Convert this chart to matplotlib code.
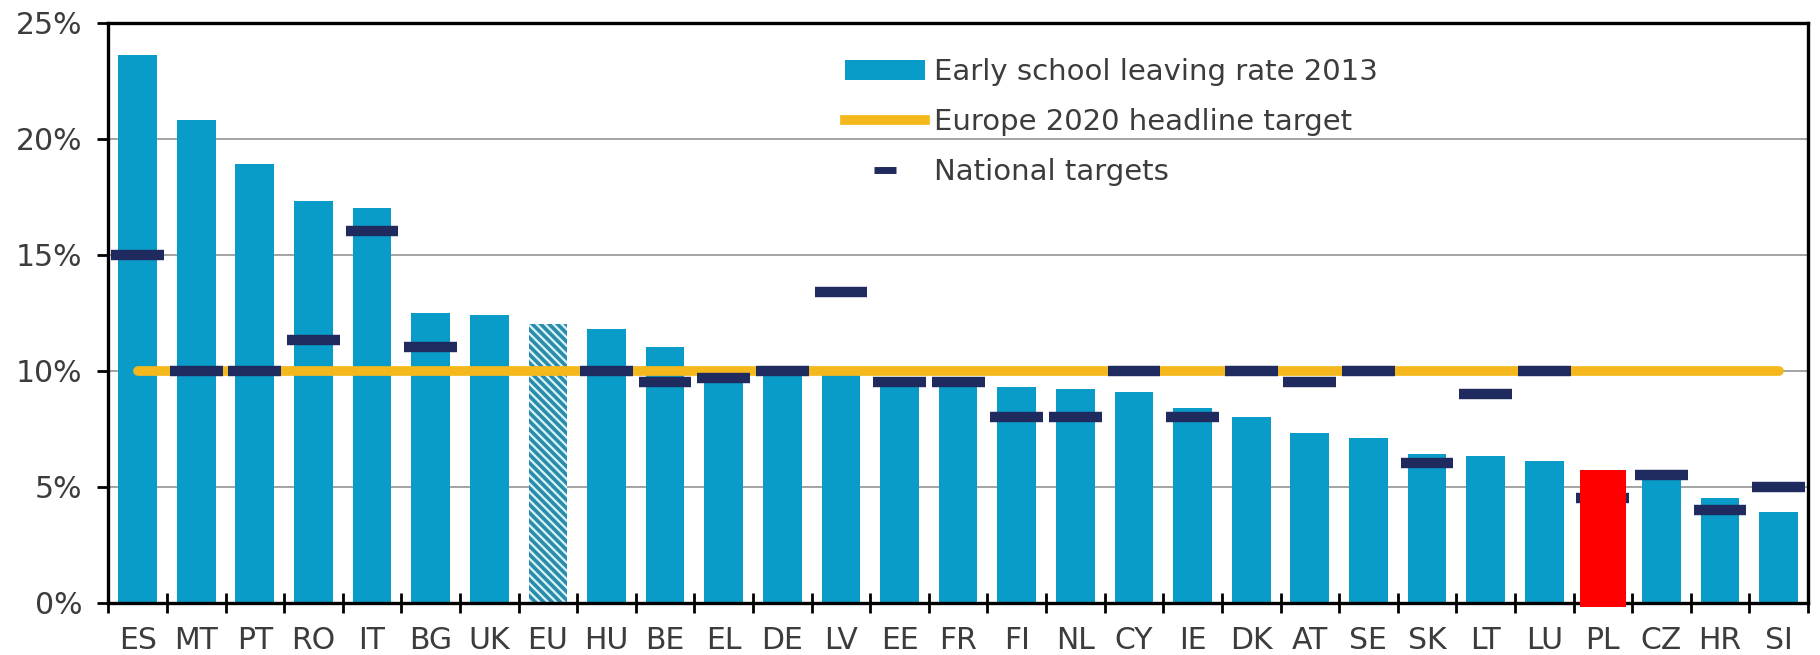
import matplotlib
matplotlib.use("Agg")
import matplotlib.pyplot as plt
from matplotlib.patches import Patch
from matplotlib.lines import Line2D
import numpy as np

countries = ["ES", "MT", "PT", "RO", "IT", "BG", "UK", "EU", "HU", "BE", "EL", "DE", "LV", "EE",
             "FR", "FI", "NL", "CY", "IE", "DK", "AT", "SE", "SK", "LT", "LU", "PL", "CZ", "HR", "SI"]
rate_2013 = [23.6, 20.8, 18.9, 17.3, 17.0, 12.5, 12.4, 12.0, 11.8, 11.0, 10.1, 9.9, 9.8, 9.7,
             9.7, 9.3, 9.2, 9.1, 8.4, 8.0, 7.3, 7.1, 6.4, 6.3, 6.1, 5.6, 5.4, 4.5, 3.9]
national_targets = [15.0, 10.0, 10.0, 11.3, 16.0, 11.0, None, None, 10.0, 9.5, 9.7, 10.0, 13.4, 9.5,
                    9.5, 8.0, 8.0, 10.0, 8.0, 10.0, 9.5, 10.0, 6.0, 9.0, 10.0, 4.5, 5.5, 4.0, 5.0]
eu_headline_target = 10.0
highlight_country = "PL"
highlight_top = 5.7
yticks = [0, 5, 10, 15, 20, 25]
ytick_labels = ["0%", "5%", "10%", "15%", "20%", "25%"]
legend_labels = ["Early school leaving rate 2013", "Europe 2020 headline target", "National targets"]

BAR = "#0A9CC8"
NAVY = "#1F2B5E"
GOLD = "#F5B81C"
TXT = "#3C3C3C"

plt.rcParams["font.family"] = ["DejaVu Sans"]
plt.rcParams["hatch.linewidth"] = 2.6
plt.rcParams["hatch.color"] = "#2A8CAA"

fig = plt.figure(figsize=(18.2, 6.55), dpi=100)
ax = fig.add_axes([108.3 / 1820, 1 - 602.7 / 655, (1808 - 108.3) / 1820, (602.7 - 22.5) / 655])

x = np.arange(len(countries))
eu_idx = countries.index("EU")
bars = ax.bar(x, rate_2013, width=0.66, color=BAR, linewidth=0, zorder=2)
bars[eu_idx].set_facecolor("#D8F2F9")
bars[eu_idx].set_hatch("\\\\\\\\")
bars[eu_idx].set_edgecolor("#2A8CAA")

# Europe 2020 headline target
ax.plot(x, [eu_headline_target] * len(x), color=GOLD, lw=7.0, solid_capstyle="round", zorder=3)

# national targets
for i, t in enumerate(national_targets):
    if t is not None:
        ax.hlines(t, i - 0.45, i + 0.45, color=NAVY, lw=7.5, zorder=4)

# highlighted bar overlay
pl = countries.index(highlight_country)
ax.bar([pl], [highlight_top + 0.18], bottom=-0.18, width=0.785, color="#FF0000",
       linewidth=0, zorder=8, clip_on=False)

ax.set_xlim(-0.5, len(countries) - 0.5)
ax.set_ylim(0, 25)
ax.set_yticks(yticks)
ax.set_yticklabels(ytick_labels)
ax.yaxis.grid(True, color="#8A8A8A", lw=1.1, zorder=0)
ax.set_axisbelow(True)

ax.set_xticks(x)
ax.set_xticklabels(countries)
ax.set_xticks(np.arange(-0.5, len(countries) + 0.5, 1), minor=True)
ax.tick_params(axis="x", which="major", length=0, pad=17, labelsize=21.5, labelcolor=TXT)
ax.tick_params(axis="x", which="minor", direction="inout", length=15, width=2, color="black")
ax.tick_params(axis="y", which="major", direction="out", length=7.6, width=2, pad=11,
               labelsize=21.5, labelcolor=TXT)

for s in ax.spines.values():
    s.set_linewidth(2.4)
    s.set_color("black")
    s.set_zorder(6)

handles = [Patch(facecolor=BAR, edgecolor="none"),
           Line2D([], [], color=GOLD, lw=7),
           Line2D([0], [0], color=NAVY, marker="_", markersize=16, markeredgewidth=5, lw=0)]
leg = fig.legend(handles, legend_labels, loc="upper left",
                 bbox_to_anchor=(845 / 1820, 1 - 58 / 655), frameon=False,
                 fontsize=21, handlelength=2.75, handleheight=0.7, handletextpad=0.3,
                 labelspacing=0.76, borderpad=0, borderaxespad=0)
for t in leg.get_texts():
    t.set_color(TXT)

fig.savefig("out.png", dpi=100)
